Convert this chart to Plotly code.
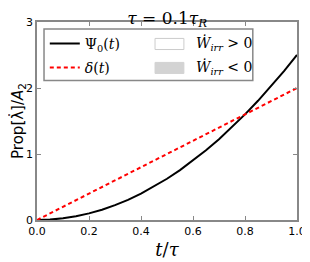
import plotly.graph_objects as go

t_psi = [0.0, 0.05, 0.1, 0.15, 0.2, 0.25, 0.3, 0.35, 0.4, 0.45, 0.5,
         0.55, 0.6, 0.65, 0.7, 0.75, 0.8, 0.85, 0.9, 0.95, 1.0]
psi0 = [0.0, 0.006, 0.025, 0.056, 0.1, 0.156, 0.225, 0.306, 0.4, 0.506, 0.625,
        0.756, 0.9, 1.056, 1.225, 1.406, 1.6, 1.806, 2.025, 2.256, 2.5]
t_delta = [0.0, 0.2, 0.4, 0.6, 0.8, 1.0]
delta = [0.0, 0.4, 0.8, 1.2, 1.6, 2.0]
x_ticks = [0.0, 0.2, 0.4, 0.6, 0.8, 1.0]
x_tick_labels = ["0.0", "0.2", "0.4", "0.6", "0.8", "1.0"]
y_ticks = [0, 1, 2, 3]
fill_labels = ["<i>Ẇ</i><sub><i>irr</i></sub> > 0", "<i>Ẇ</i><sub><i>irr</i></sub> < 0"]
fill_colors = ["white", "#d3d3d3"]
fill_borders = ["#cccccc", "#d3d3d3"]

serif = "DejaVu Serif"
legend_font = dict(family=serif, size=14, color="black")
fig = go.Figure()
fig.add_trace(go.Scatter(x=t_psi, y=psi0, mode="lines", name="Ψ<sub>0</sub>(<i>t</i>)",
                         line=dict(color="black", width=2), legend="legend", showlegend=True))
fig.add_trace(go.Scatter(x=t_delta, y=delta, mode="lines", name="<i>δ</i>(<i>t</i>)",
                         line=dict(color="red", width=2, dash="4px,3px"), legend="legend2",
                         showlegend=True))

axis_common = dict(showline=True, mirror="allticks", linecolor="#888888", linewidth=1.5,
                   ticks="inside", ticklen=4, tickcolor="#888888", showgrid=False,
                   zeroline=False, automargin=False,
                   tickfont=dict(family="DejaVu Sans", size=11, color="black"))

row_y = [0.889, 0.768]
shapes = [dict(type="rect", xref="paper", yref="paper", x0=0.027, x1=0.83, y0=0.705, y1=0.965,
               line=dict(color="#888888", width=1.5), fillcolor="white", layer="below")]
annotations = []
for i in range(2):
    shapes.append(dict(type="rect", xref="paper", yref="paper", x0=0.454, x1=0.565,
                       y0=row_y[i] - 0.028, y1=row_y[i] + 0.028,
                       line=dict(color=fill_borders[i], width=1), fillcolor=fill_colors[i]))
    annotations.append(dict(xref="paper", yref="paper", x=0.605, y=row_y[i], xanchor="left",
                            yanchor="middle", text=fill_labels[i], showarrow=False, font=legend_font))

fig.update_layout(
    width=302, height=254,
    margin=dict(l=29, r=13, t=14, b=42),
    paper_bgcolor="white", plot_bgcolor="white",
    showlegend=True,
    title=dict(text="<i>τ</i> = 0.1<i>τ</i><sub><i>R</i></sub>", x=0.527, xanchor="center",
               y=0.962, yanchor="middle", font=dict(family=serif, size=17, color="black")),
    xaxis=dict(range=[0, 1], tickvals=x_ticks, ticktext=x_tick_labels,
               title=dict(text="<i>t</i>/<i>τ</i>", font=dict(family=serif, size=18, color="black"),
                          standoff=6), **axis_common),
    yaxis=dict(range=[0, 3], tickvals=y_ticks,
               title=dict(text="Prop[λ̇]/<i>A</i><sub>2</sub>", font=dict(family="DejaVu Sans", size=15, color="black"),
                          standoff=4), **axis_common),
    legend=dict(x=0.03, y=row_y[0], xanchor="left", yanchor="middle", bgcolor="rgba(0,0,0,0)",
                font=legend_font, itemwidth=30),
    legend2=dict(x=0.03, y=row_y[1], xanchor="left", yanchor="middle", bgcolor="rgba(0,0,0,0)",
                 font=legend_font, itemwidth=30),
    shapes=shapes,
    annotations=annotations,
)
fig.write_html("out.html")
